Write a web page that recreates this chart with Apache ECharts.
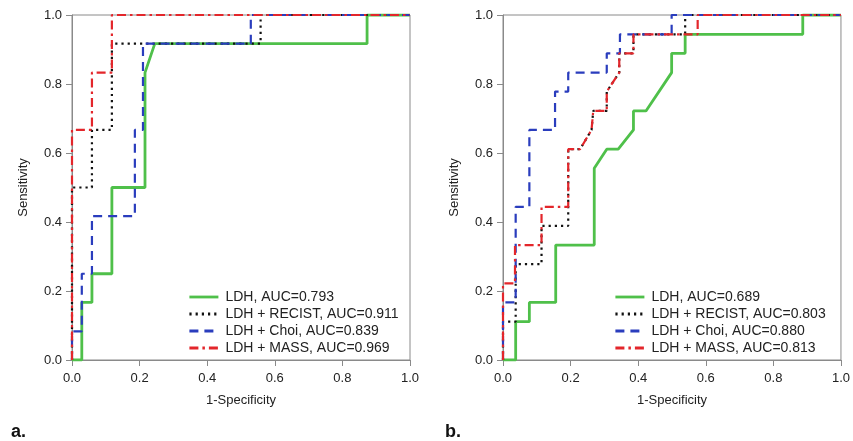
<!DOCTYPE html>
<html><head><meta charset="utf-8">
<script src="https://cdn.jsdelivr.net/npm/echarts@6/dist/echarts.min.js"></script>
<style>html,body{margin:0;padding:0;background:#fff}#c{width:853px;height:441px}</style>
</head><body><div id="c"></div>
<script>
// Panel a
const namesA = ['LDH, AUC=0.793','LDH + RECIST, AUC=0.911','LDH + Choi, AUC=0.839','LDH + MASS, AUC=0.969'];
const ldhA = [[0,0],[0.029,0],[0.029,0.167],[0.059,0.167],[0.059,0.25],[0.118,0.25],[0.118,0.5],[0.216,0.5],[0.216,0.833],[0.245,0.917],[0.873,0.917],[0.873,1],[1,1]];
const recistA = [[0,0],[0,0.5],[0.059,0.5],[0.059,0.667],[0.118,0.667],[0.118,0.917],[0.558,0.917],[0.558,1],[1,1]];
const choiA = [[0,0],[0,0.083],[0.029,0.083],[0.029,0.25],[0.059,0.25],[0.059,0.417],[0.186,0.417],[0.186,0.667],[0.21,0.667],[0.21,0.917],[0.529,0.917],[0.529,1],[1,1]];
const massA = [[0,0],[0,0.667],[0.059,0.667],[0.059,0.833],[0.118,0.833],[0.118,1],[1,1]];
// Panel b
const namesB = ['LDH, AUC=0.689','LDH + RECIST, AUC=0.803','LDH + Choi, AUC=0.880','LDH + MASS, AUC=0.813'];
const ldhB = [[0,0],[0.0375,0],[0.0375,0.111],[0.078,0.111],[0.078,0.167],[0.156,0.167],[0.156,0.333],[0.27,0.333],[0.27,0.556],[0.307,0.611],[0.341,0.611],[0.386,0.667],[0.386,0.722],[0.423,0.722],[0.499,0.833],[0.499,0.889],[0.539,0.889],[0.539,0.944],[0.887,0.944],[0.887,1],[1,1]];
const recistB = [[0,0],[0,0.111],[0.0375,0.111],[0.0375,0.278],[0.114,0.278],[0.114,0.389],[0.193,0.389],[0.193,0.611],[0.228,0.611],[0.262,0.667],[0.267,0.667],[0.267,0.722],[0.307,0.722],[0.307,0.778],[0.344,0.833],[0.344,0.889],[0.386,0.889],[0.386,0.944],[0.539,0.944],[0.539,1],[1,1]];
const choiB = [[0,0],[0,0.167],[0.0375,0.167],[0.0375,0.444],[0.078,0.444],[0.078,0.667],[0.154,0.667],[0.154,0.778],[0.193,0.778],[0.193,0.833],[0.307,0.833],[0.307,0.889],[0.346,0.889],[0.346,0.944],[0.499,0.944],[0.499,1],[1,1]];
const massB = [[0,0],[0,0.222],[0.0355,0.222],[0.0355,0.333],[0.114,0.333],[0.114,0.444],[0.193,0.444],[0.193,0.611],[0.228,0.611],[0.262,0.667],[0.267,0.667],[0.267,0.722],[0.307,0.722],[0.307,0.778],[0.344,0.833],[0.344,0.889],[0.386,0.889],[0.386,0.944],[0.576,0.944],[0.576,1],[1,1]];
const tickVals = [0,0.2,0.4,0.6,0.8,1.0];

const FONT = 'Liberation Sans, Arial, sans-serif';
const GRAY = '#8a8a8a';
const styles = [
  {color:'#4fc04a', width:2.8, type:'solid'},
  {color:'#111111', width:2.2, type:[2.2,4]},
  {color:'#2a3dbd', width:2.2, type:[9,6]},
  {color:'#e3262b', width:2.2, type:[9,4,2.5,4]}
];
function xAx(i){return {gridIndex:i,type:'value',min:0,max:1,interval:0.2,
  name:'1-Specificity',nameLocation:'middle',nameGap:34,
  nameTextStyle:{fontFamily:FONT,fontSize:13,color:'#222'},
  axisLine:{show:true,onZero:false,lineStyle:{color:GRAY,width:1}},
  axisTick:{show:true,length:6,lineStyle:{color:GRAY}},
  axisLabel:{margin:12,fontFamily:FONT,fontSize:13,color:'#222',formatter:v=>v.toFixed(1)},
  splitLine:{show:false}};}
function yAx(i){return {gridIndex:i,type:'value',min:0,max:1,interval:0.2,
  name:'Sensitivity',nameLocation:'middle',nameGap:42,nameRotate:90,
  nameTextStyle:{fontFamily:FONT,fontSize:13,color:'#222'},
  axisLine:{show:true,onZero:false,lineStyle:{color:GRAY,width:1}},
  axisTick:{show:true,length:6,lineStyle:{color:GRAY}},
  axisLabel:{margin:10,fontFamily:FONT,fontSize:13,color:'#222',formatter:v=>v.toFixed(1)},
  splitLine:{show:false}};}
function mk(name,data,si,gi){return {name:name,type:'line',data:data,xAxisIndex:gi,yAxisIndex:gi,
  symbol:'none',showSymbol:false,lineStyle:styles[si],itemStyle:{color:styles[si].color},z:2+si};}
const series = [
  mk(namesA[0],ldhA,0,0),mk(namesA[1],recistA,1,0),mk(namesA[2],choiA,2,0),mk(namesA[3],massA,3,0),
  mk(namesB[0],ldhB,0,1),mk(namesB[1],recistB,1,1),mk(namesB[2],choiB,2,1),mk(namesB[3],massB,3,1)
];
function lg(names,left){return {data:names,orient:'vertical',left:left,top:285,itemWidth:29,itemHeight:14,itemGap:3,
  selectedMode:false,itemStyle:{opacity:0},lineStyle:{width:2.8},
  textStyle:{fontFamily:FONT,fontSize:14,color:'#222',padding:[0,0,0,2]}};}
const chart = echarts.init(document.getElementById('c'),null,{renderer:'canvas'});
chart.setOption({
  animation:false,
  backgroundColor:'#fff',
  grid:[{left:72,top:15,width:338,height:345,show:true,borderColor:GRAY,borderWidth:1},
        {left:503,top:15,width:338,height:345,show:true,borderColor:GRAY,borderWidth:1}],
  xAxis:[xAx(0),xAx(1)],
  yAxis:[yAx(0),yAx(1)],
  legend:[lg(namesA,183),lg(namesB,609)],
  series:series,
  graphic:[
    {type:'text',left:11,top:423,style:{text:'a.',font:'bold 18px "Liberation Sans Narrow", "Liberation Sans", sans-serif',fill:'#111'}},
    {type:'text',left:445,top:423,style:{text:'b.',font:'bold 18px "Liberation Sans Narrow", "Liberation Sans", sans-serif',fill:'#111'}}
  ]
});
</script></body></html>
